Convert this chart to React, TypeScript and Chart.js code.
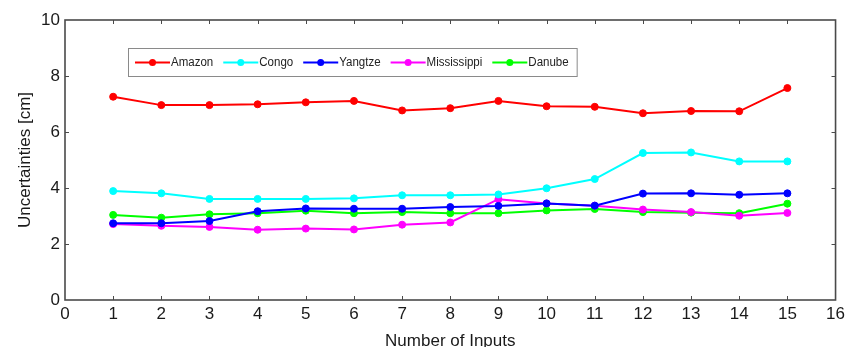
import React, { useEffect, useRef } from "react";
import { Chart, registerables } from "chart.js";

Chart.register(...registerables);

// Number of inputs used for each estimate
const inputs = [1, 2, 3, 4, 5, 6, 7, 8, 9, 10, 11, 12, 13, 14, 15];

// Uncertainty per river basin [cm]
const amazon = [7.26, 6.96, 6.96, 6.99, 7.06, 7.11, 6.77, 6.85, 7.11, 6.92, 6.9, 6.67, 6.75, 6.74, 7.57];
const congo = [3.89, 3.81, 3.61, 3.61, 3.61, 3.63, 3.74, 3.74, 3.77, 3.99, 4.32, 5.25, 5.27, 4.95, 4.95];
const yangtze = [2.74, 2.74, 2.82, 3.17, 3.27, 3.26, 3.26, 3.32, 3.36, 3.45, 3.37, 3.8, 3.81, 3.76, 3.81];
const mississippi = [2.71, 2.65, 2.61, 2.51, 2.55, 2.52, 2.69, 2.77, 3.6, 3.45, 3.37, 3.23, 3.14, 3.01, 3.11];
const danube = [3.04, 2.94, 3.06, 3.1, 3.19, 3.1, 3.14, 3.1, 3.1, 3.2, 3.25, 3.14, 3.12, 3.1, 3.44];

const seriesNames = ["Amazon", "Congo", "Yangtze", "Mississippi", "Danube"];
const seriesValues = [amazon, congo, yangtze, mississippi, danube];
const seriesColors = ["#ff0000", "#00ffff", "#0000ff", "#ff00ff", "#00ff00"];

const xTitle = "Number of Inputs";
const yTitle = "Uncertainties [cm]";
const xMin = 0, xMax = 16, xStep = 1;
const yMin = 0, yMax = 10, yStep = 2;

const FONT = "'Liberation Sans', Arial, Helvetica, sans-serif";

// Axis box with inward-pointing tick marks on all four sides
const framePlugin = {
  id: "frame",
  beforeDatasetsDraw(chart: any) {
    const { ctx, chartArea: a, scales } = chart;
    const len = 4;
    ctx.save();
    ctx.strokeStyle = "#4a4a4a";
    ctx.lineWidth = 1;
    ctx.beginPath();
    for (const t of scales.x.ticks) {
      if (t.value <= xMin || t.value >= xMax) continue;
      const px = Math.round(scales.x.getPixelForValue(t.value)) + 0.5;
      ctx.moveTo(px, a.bottom);
      ctx.lineTo(px, a.bottom - len);
      ctx.moveTo(px, a.top);
      ctx.lineTo(px, a.top + len);
    }
    for (const t of scales.y.ticks) {
      if (t.value <= yMin || t.value >= yMax) continue;
      const py = Math.round(scales.y.getPixelForValue(t.value)) + 0.5;
      ctx.moveTo(a.left, py);
      ctx.lineTo(a.left + len, py);
      ctx.moveTo(a.right, py);
      ctx.lineTo(a.right - len, py);
    }
    ctx.stroke();
    ctx.lineWidth = 1.6;
    ctx.strokeRect(a.left, a.top, a.right - a.left, a.bottom - a.top);
    ctx.restore();
  },
};

// Single-row boxed legend drawn inside the plot area
const boxLegendPlugin = {
  id: "boxLegend",
  afterDatasetsDraw(chart: any) {
    const { ctx, chartArea: a } = chart;
    const left = a.left + 63;
    const top = a.top + 28;
    const height = 28;
    const pad = 7;
    const lineLen = 35;
    const gap = 10;
    const squeeze = 0.96;
    ctx.save();
    ctx.font = `12px ${FONT}`;
    const items = chart.data.datasets.map((d: any) => ({
      label: d.label,
      color: d.borderColor,
      w: ctx.measureText(d.label).width * squeeze,
    }));
    let width = pad;
    items.forEach((it: any, i: number) => {
      width += lineLen + 1 + it.w + (i < items.length - 1 ? gap : 8);
    });
    ctx.fillStyle = "#ffffff";
    ctx.fillRect(left, top, width, height);
    ctx.strokeStyle = "#8a8a8a";
    ctx.lineWidth = 1;
    ctx.strokeRect(left + 0.5, top + 0.5, width, height);
    const cy = top + height / 2 + 0.5;
    let x = left + pad;
    items.forEach((it: any) => {
      ctx.strokeStyle = it.color;
      ctx.lineWidth = 2;
      ctx.beginPath();
      ctx.moveTo(x, cy);
      ctx.lineTo(x + lineLen, cy);
      ctx.stroke();
      ctx.fillStyle = it.color;
      ctx.beginPath();
      ctx.arc(x + lineLen / 2, cy, 3.5, 0, Math.PI * 2);
      ctx.fill();
      ctx.save();
      ctx.translate(x + lineLen + 1, cy);
      ctx.scale(squeeze, 1);
      ctx.fillStyle = "#222";
      ctx.textBaseline = "middle";
      ctx.textAlign = "left";
      ctx.fillText(it.label, 0, 0);
      ctx.restore();
      x += lineLen + 1 + it.w + gap;
    });
    ctx.restore();
  },
};

export default function App() {
  const canvasRef = useRef<HTMLCanvasElement | null>(null);

  useEffect(() => {
    if (!canvasRef.current) return;
    const datasets = seriesNames.map((name, i) => ({
      label: name,
      data: inputs.map((x, j) => ({ x, y: seriesValues[i][j] })),
      borderColor: seriesColors[i],
      backgroundColor: seriesColors[i],
      pointBackgroundColor: seriesColors[i],
      pointBorderColor: seriesColors[i],
      borderWidth: 2,
      pointRadius: 3.5,
      pointBorderWidth: 1,
      tension: 0,
    }));
    const chart = new Chart(canvasRef.current, {
      type: "line",
      data: { datasets },
      options: {
        responsive: false,
        animation: false,
        layout: { padding: { top: 20, right: 15, left: 0, bottom: 0 } },
        plugins: {
          legend: { display: false },
          tooltip: { enabled: false },
        },
        scales: {
          x: {
            type: "linear",
            min: xMin,
            max: xMax,
            border: { display: false },
            grid: { display: false, drawTicks: false },
            ticks: {
              stepSize: xStep,
              autoSkip: false,
              maxRotation: 0,
              padding: 6,
              color: "#1a1a1a",
              font: { family: FONT, size: 17, lineHeight: 1 },
            },
            title: {
              display: true,
              text: xTitle,
              color: "#1a1a1a",
              font: { family: FONT, size: 17, lineHeight: 1 },
              padding: { top: 0, bottom: -3 },
            },
            afterFit(scale: any) {
              scale.height = 47;
            },
          },
          y: {
            min: yMin,
            max: yMax,
            border: { display: false },
            grid: { display: false, drawTicks: false },
            ticks: {
              stepSize: yStep,
              padding: 5,
              color: "#1a1a1a",
              font: { family: FONT, size: 17, lineHeight: 1 },
            },
            title: {
              display: true,
              text: yTitle,
              color: "#1a1a1a",
              font: { family: FONT, size: 17, lineHeight: 1 },
              padding: { top: 17, bottom: 0 },
            },
            afterFit(scale: any) {
              scale.width = 65;
            },
          },
        },
      },
      plugins: [framePlugin, boxLegendPlugin],
    } as any);
    return () => chart.destroy();
  }, []);

  return (
    <div style={{ position: "fixed", left: 0, top: 0, width: 851, height: 347, background: "#fff" }}>
      <canvas ref={canvasRef} width={851} height={347} style={{ display: "block" }} />
    </div>
  );
}
